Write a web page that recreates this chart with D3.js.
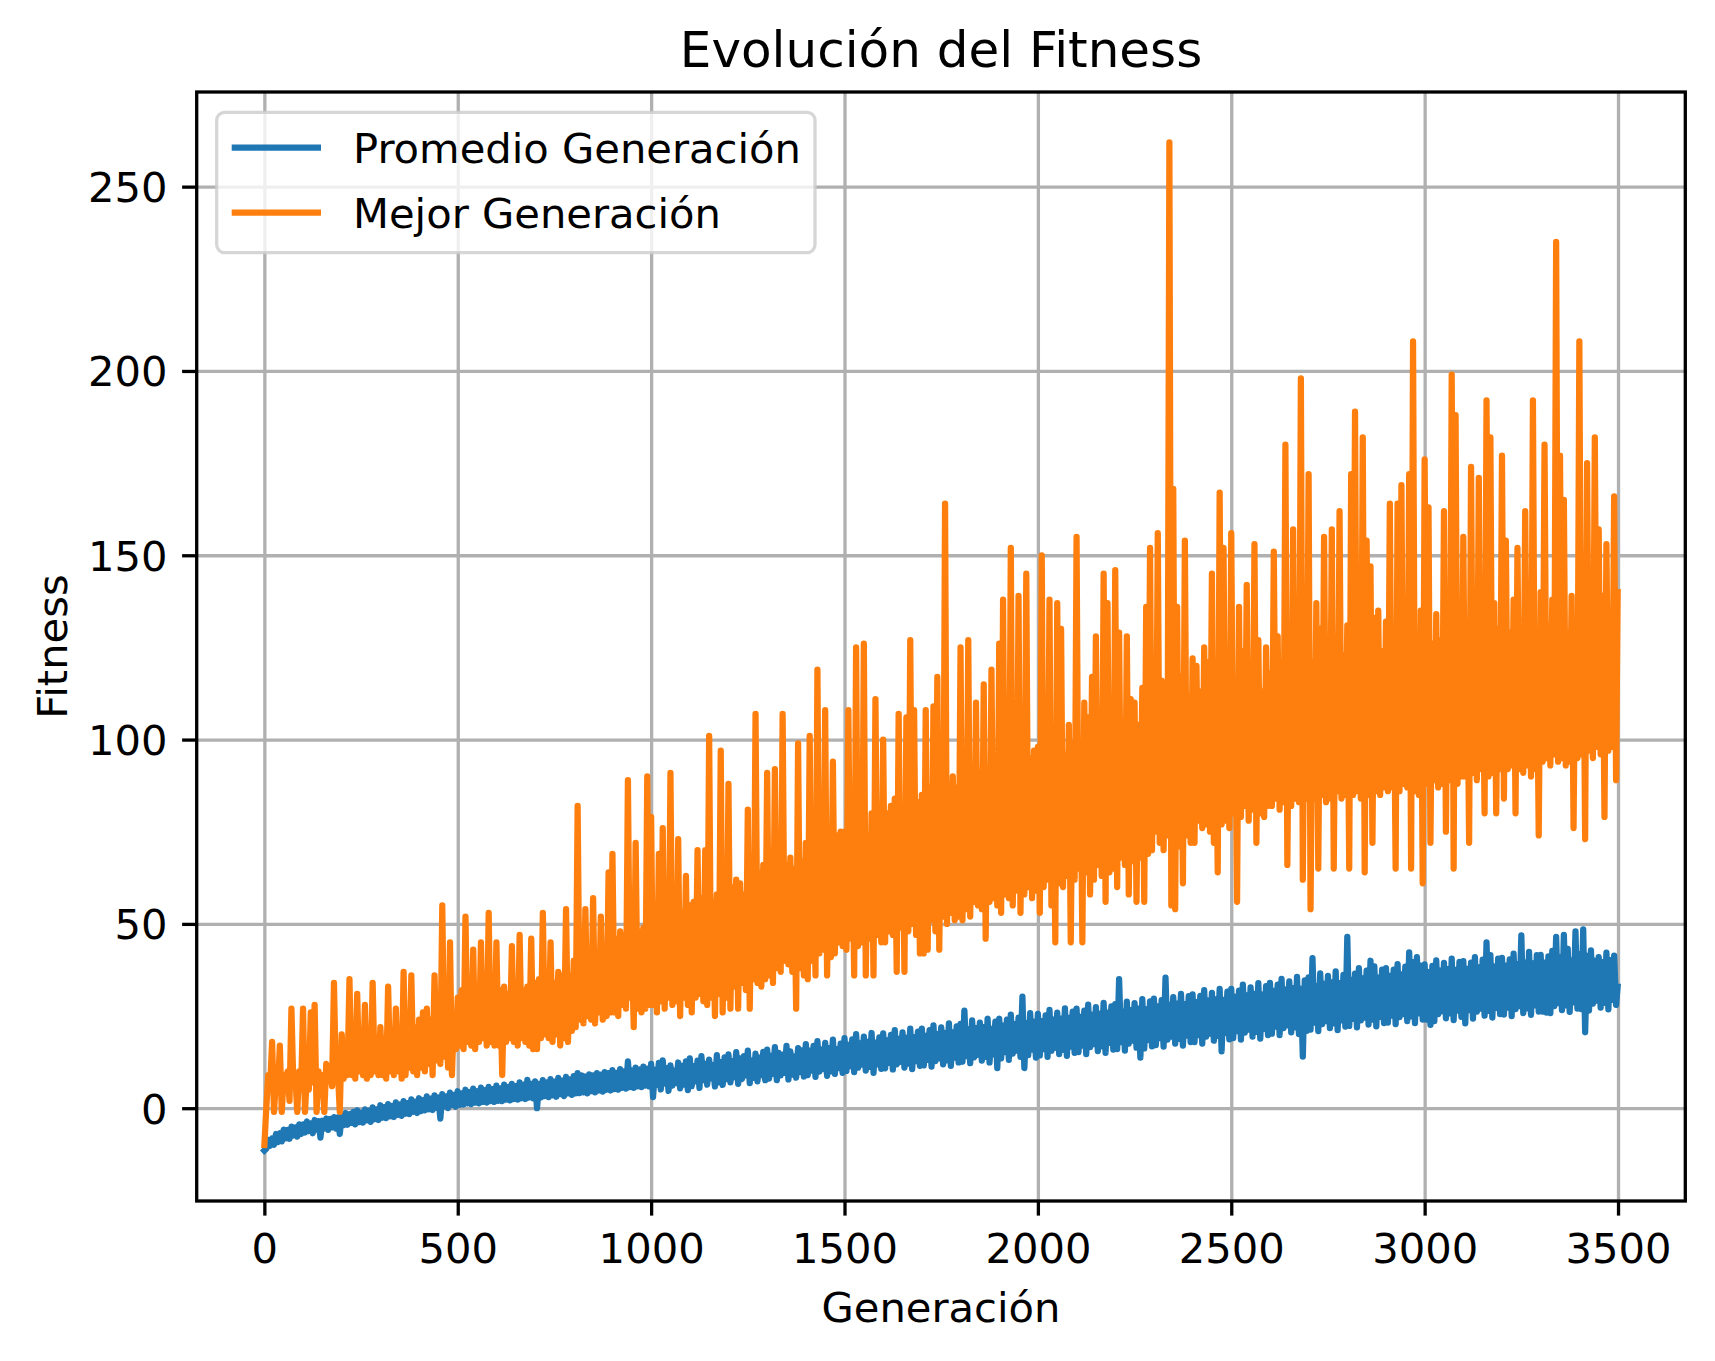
<!DOCTYPE html>
<html>
<head>
<meta charset="utf-8">
<script src="https://cdn.jsdelivr.net/npm/d3@7"></script>
<style>
  body { margin: 0; background: #fff; }
  svg { display: block; font-family: "DejaVu Sans", sans-serif; }
</style>
</head>
<body>
<svg width="1715" height="1361"></svg>
<script>
// samples: "alto" values at generations 0,10,20..3490,
// "bajo" values at 5,15,25..3495, and the last generation on its own
var step = 10;
var lastGen = 3499;

// average fitness (blue)
var promedioAlto = [
  -11.5, -8.6, -8.2, -7.0, -6.8, -5.8, -5.9, -5.0, -5.2, -4.4,
  -4.4, -3.6, -4.1, -3.2, -3.5, -3.4, -2.8, -2.9, -2.4, -2.5,
  -1.9, -1.3, -1.6, -1.0, -0.6, -1.2, -0.3, -0.7, 0.2, -0.3,
  0.8, 0.3, 1.1, 0.6, 1.6, 1.0, 1.9, 1.4, 2.4, 1.8,
  2.7, 2.2, 3.2, 2.6, 3.5, 2.9, 3.8, 3.2, 4.2, 3.6,
  4.6, 4.0, 5.0, 4.4, 5.3, 4.6, 5.6, 4.9, 5.8, 5.2,
  6.1, 5.4, 6.4, 5.8, 6.6, 6.0, 7.0, 6.4, 7.7, 6.6,
  7.3, 6.6, 7.6, 7.0, 7.9, 7.2, 8.2, 7.5, 8.5, 7.8,
  8.7, 9.5, 8.9, 8.6, 9.2, 8.9, 9.5, 9.1, 9.8, 9.5,
  10.3, 9.6, 10.6, 10.0, 12.7, 10.2, 11.0, 10.5, 11.3, 10.7,
  12.0, 10.4, 12.3, 13.0, 10.9, 11.6, 10.2, 12.4, 11.5, 12.7,
  13.5, 11.4, 12.9, 14.1, 12.0, 13.2, 11.7, 14.4, 12.5, 13.8,
  14.6, 12.8, 15.2, 13.5, 14.1, 15.6, 12.9, 14.8, 13.7, 15.3,
  15.9, 14.2, 16.6, 15.0, 14.5, 16.9, 15.4, 14.0, 16.3, 15.7,
  17.4, 15.6, 16.9, 18.2, 15.9, 17.7, 16.3, 18.6, 16.0, 17.5,
  19.0, 17.2, 18.7, 20.1, 17.6, 19.4, 18.0, 20.4, 17.8, 19.2,
  20.3, 18.4, 19.9, 21.2, 18.8, 20.6, 19.1, 21.6, 19.3, 20.8,
  21.6, 19.6, 21.2, 22.5, 20.1, 21.9, 20.4, 23.0, 20.6, 22.2,
  22.9, 26.5, 21.4, 23.8, 21.7, 23.2, 22.0, 24.3, 21.5, 23.5,
  24.3, 22.4, 24.0, 25.4, 22.8, 24.6, 30.3, 23.1, 25.8, 23.4,
  25.6, 23.6, 25.2, 26.7, 24.0, 25.9, 24.3, 27.1, 24.5, 26.2,
  27.0, 24.8, 26.5, 28.1, 25.3, 27.4, 25.6, 28.6, 25.9, 27.6,
  28.2, 35.0, 26.1, 28.9, 26.6, 28.5, 27.0, 29.6, 26.8, 29.0,
  29.7, 27.6, 29.3, 35.4, 28.0, 30.1, 28.4, 31.0, 28.2, 30.4,
  30.9, 28.8, 30.5, 32.0, 29.2, 31.3, 29.5, 32.4, 29.4, 31.6,
  32.4, 30.2, 31.9, 33.5, 30.6, 32.8, 31.0, 33.9, 30.8, 33.1,
  34.0, 31.8, 33.5, 35.1, 32.2, 34.4, 32.6, 35.6, 32.4, 34.7,
  35.5, 40.7, 33.1, 36.6, 33.7, 35.9, 34.1, 37.1, 33.9, 36.2,
  46.5, 34.8, 36.5, 38.0, 35.2, 37.3, 40.0, 38.5, 35.4, 37.6,
  38.0, 35.9, 37.6, 39.1, 36.3, 38.4, 42.3, 39.6, 41.0, 38.7,
  39.0, 36.9, 38.6, 40.1, 37.3, 39.4, 37.7, 40.6, 37.5, 39.7,
  39.9, 37.8, 39.5, 41.0, 38.2, 40.3, 45.0, 41.5, 38.4, 40.6,
  40.8, 38.7, 40.4, 41.9, 39.1, 46.9, 39.5, 42.4, 39.3, 41.5,
  41.6, 39.5, 41.2, 42.7, 46.5, 40.9, 47.0, 43.2, 40.1, 48.0,
  41.7, 48.5, 41.3, 42.8, 40.0, 41.0, 39.6, 42.2, 40.2, 41.4
];
var promedioBajo = [
  -11, -10.2, -9.9, -9.2, -9.0, -8.2, -8.3, -7.4, -7.7, -7.0,
  -6.6, -6.2, -6.8, -5.8, -8, -5.5, -5.9, -5.2, -5.5, -7,
  -4.6, -4.5, -4.0, -4.4, -3.8, -3.9, -3.3, -3.7, -3.0, -3.2,
  -2.6, -2.7, -2.2, -2.4, -1.8, -2.1, -1.5, -1.6, -1.0, -1.3,
  -0.8, -0.6, -0.3, -0.5, 0.1, -2.8, 0.5, 0.0, 0.9, 0.4,
  0.9, 1.0, 1.3, 1.1, 1.5, 1.3, 1.7, 1.5, 1.9, 1.7,
  2.0, 1.9, 2.3, 2.1, 2.5, 2.3, 2.7, 2.5, 2.9, 2.7,
  0, 2.9, 3.3, 3.0, 3.5, 3.1, 3.8, 3.3, 4.0, 3.6,
  4.0, 4.1, 4.3, 4.0, 4.6, 4.3, 4.8, 4.5, 5.0, 4.8,
  5.2, 5.0, 5.5, 5.3, 5.7, 5.5, 5.9, 5.7, 6.1, 5.9,
  3, 6.3, 5.1, 6.7, 4.7, 6.1, 6.8, 5.4, 6.4, 4.9,
  6.0, 7.3, 5.5, 7.6, 6.4, 8.1, 5.9, 7.0, 6.3, 7.9,
  7.0, 8.4, 6.6, 7.9, 8.9, 6.8, 8.2, 7.3, 9.0, 7.6,
  8.0, 9.3, 7.6, 8.9, 9.6, 7.8, 9.1, 8.3, 9.8, 8.6,
  9.0, 10.2, 8.5, 9.9, 10.6, 8.8, 10.0, 9.3, 10.9, 9.6,
  10.1, 11.4, 9.8, 11.0, 11.8, 10.2, 11.2, 9.6, 11.9, 10.7,
  10.8, 12.3, 10.5, 11.9, 12.6, 11.0, 12.1, 10.6, 12.8, 11.5,
  11.6, 13.1, 11.3, 12.8, 13.5, 11.9, 13.0, 11.5, 13.7, 12.4,
  12.6, 14.1, 12.2, 13.8, 14.5, 12.9, 13.9, 12.4, 14.6, 10.9,
  13.5, 15.2, 13.1, 14.8, 15.6, 13.9, 10.9, 14.4, 15.9, 13.7,
  14.3, 16.0, 13.9, 15.6, 16.4, 14.7, 15.8, 14.2, 16.7, 15.0,
  15.2, 17.0, 14.7, 16.6, 17.4, 15.5, 16.8, 15.0, 17.7, 15.9,
  16.0, 17.9, 15.6, 17.5, 18.3, 16.4, 13.7, 16.2, 18.5, 16.8,
  17.1, 19.0, 16.7, 18.6, 19.4, 17.5, 18.8, 17.0, 19.7, 17.9,
  17.9, 19.8, 17.5, 19.4, 20.2, 18.3, 19.6, 15.4, 20.4, 18.7,
  19.0, 20.9, 18.6, 20.5, 21.3, 19.4, 20.7, 18.9, 21.5, 19.8,
  20.2, 22.1, 19.8, 21.7, 22.5, 20.6, 21.9, 20.1, 14.0, 21.0,
  21.3, 23.2, 20.9, 22.8, 23.6, 21.7, 23.0, 21.2, 23.8, 22.1,
  22.3, 24.2, 21.9, 23.8, 24.6, 22.7, 24.0, 22.2, 24.8, 23.1,
  23.2, 25.1, 22.8, 24.7, 25.5, 23.6, 24.9, 23.1, 25.7, 24.0,
  24.0, 22.6, 23.6, 25.5, 26.3, 24.4, 25.7, 23.9, 26.5, 24.8,
  23.0, 26.6, 24.3, 26.2, 27.0, 25.1, 26.4, 24.6, 27.2, 25.5,
  25.4, 27.3, 25.0, 26.9, 27.7, 25.8, 27.1, 25.3, 27.9, 26.2,
  26.2, 25.9, 25.8, 27.7, 28.5, 26.6, 27.9, 26.1, 28.7, 27.0,
  26.9, 20.6, 26.5, 28.4, 29.2, 27.3, 28.6, 26.8, 29.4, 28.0
];
var promedioFinal = 33;

// best fitness (orange)
var mejorAlto = [
  -10, 9, 18, 8, 17, 9, 10, 27, 9, 10,
  27, 9, 26, 28, 10, 9, 12, 11, 34, 10,
  20, 14, 35, 18, 31, 16, 28, 17, 34, 18,
  22, 19, 33, 20, 27, 21, 37, 19, 36, 22,
  24, 26, 27, 24, 36, 26, 55, 27, 45, 25,
  30, 32, 52, 31, 43, 30, 45, 33, 53, 31,
  45, 32, 33, 31, 44, 33, 47, 32, 33, 46,
  34, 35, 53, 36, 45, 34, 37, 36, 54, 36,
  40, 82, 41, 54, 40, 57, 42, 52, 43, 64,
  69, 46, 48, 47, 89, 45, 72, 48, 49, 90,
  79, 52, 69, 76, 50, 91, 54, 73, 53, 63,
  55, 56, 70, 57, 70, 101, 56, 58, 97, 57,
  88, 60, 62, 61, 58, 81, 63, 107, 64, 66,
  91, 64, 92, 67, 107, 66, 68, 65, 99, 67,
  72, 101, 70, 119, 73, 108, 72, 94, 74, 75,
  75, 108, 76, 125, 77, 126, 74, 80, 111, 78,
  100, 80, 82, 84, 107, 81, 106, 127, 108, 83,
  85, 108, 87, 109, 117, 86, 164, 88, 90, 87,
  125, 90, 127, 88, 110, 91, 115, 92, 119, 90,
  126, 138, 93, 152, 94, 139, 96, 145, 95, 97,
  98, 150, 94, 138, 102, 137, 130, 96, 104, 99,
  155, 98, 110, 106, 117, 128, 101, 145, 137, 108,
  146, 129, 103, 128, 111, 110, 104, 114, 136, 152,
  110, 156, 116, 108, 262, 168, 136, 117, 154, 112,
  122, 120, 113, 125, 121, 145, 115, 167, 152, 124,
  156, 114, 136, 124, 142, 117, 153, 127, 113, 125,
  118, 151, 128, 121, 180, 126, 157, 119, 198, 129,
  172, 121, 137, 130, 155, 119, 157, 128, 162, 123,
  131, 172, 189, 122, 182, 154, 147, 133, 135, 124,
  132, 164, 125, 164, 169, 131, 172, 208, 124, 135,
  176, 163, 126, 134, 127, 162, 135, 199, 188, 127,
  155, 129, 174, 136, 171, 127, 192, 182, 137, 130,
  177, 154, 129, 138, 152, 130, 162, 138, 192, 128,
  140, 180, 131, 138, 235, 177, 165, 129, 139, 132,
  208, 140, 175, 131, 182, 157, 139, 153, 133, 166
];
var mejorBajo = [
  0, 6, -1, 5, -1, 7, 2, 6, -1, 5,
  -1, 5, 7, -1, 4, -1, 8, 6, 7, -1,
  8, 9, 9, 8, 10, 9, 8, 9, 10, 9,
  9, 8, 10, 9, 10, 8, 9, 11, 10, 9,
  11, 10, 12, 9, 13, 12, 14, 11, 9, 16,
  17, 16, 18, 17, 16, 18, 19, 17, 18, 17,
  17, 9, 18, 19, 18, 17, 19, 18, 17, 16,
  16, 19, 20, 19, 18, 20, 17, 19, 18, 21,
  22, 24, 23, 25, 24, 23, 26, 24, 25, 26,
  26, 25, 28, 27, 30, 22, 27, 26, 27, 28,
  28, 26, 29, 27, 30, 28, 29, 25, 30, 28,
  26, 30, 31, 29, 28, 30, 25, 31, 26, 30,
  27, 33, 27, 34, 32, 27, 35, 34, 33, 35,
  36, 34, 38, 37, 40, 39, 37, 27, 38, 36,
  35, 40, 36, 42, 43, 36, 41, 42, 45, 44,
  43, 46, 36, 44, 45, 36, 46, 36, 47, 45,
  45, 48, 47, 37, 49, 37, 48, 50, 47, 42,
  42, 43, 51, 48, 43, 52, 50, 53, 51, 52,
  51, 54, 52, 56, 55, 54, 46, 56, 57, 55,
  53, 58, 57, 55, 59, 53, 58, 60, 57, 59,
  53, 60, 62, 55, 45, 61, 60, 63, 45, 62,
  65, 45, 64, 58, 62, 66, 63, 56, 64, 65,
  60, 68, 66, 58, 67, 56, 68, 56, 69, 70,
  75, 72, 70, 74, 55, 54, 71, 61, 74, 72,
  72, 78, 76, 77, 75, 72, 64, 77, 78, 76,
  80, 56, 79, 82, 78, 81, 72, 80, 79, 82,
  82, 84, 81, 83, 66, 82, 84, 83, 62, 84,
  54, 84, 65, 85, 83, 84, 65, 86, 84, 85,
  65, 85, 86, 84, 64, 85, 72, 86, 85, 87,
  86, 87, 65, 86, 88, 87, 65, 86, 85, 61,
  88, 72, 89, 87, 88, 75, 89, 65, 88, 90,
  90, 72, 91, 89, 92, 80, 90, 91, 80, 92,
  84, 92, 93, 80, 92, 91, 93, 90, 92, 74,
  94, 95, 93, 96, 94, 95, 93, 94, 76, 95,
  96, 73, 97, 95, 98, 96, 79, 97, 98, 89
];
var mejorFinal = 140;

var seriesNames = ['Promedio Generación', 'Mejor Generación'];
var seriesColors = ['#1f77b4', '#ff7f0e'];
var xTicks = [0, 500, 1000, 1500, 2000, 2500, 3000, 3500];
var yTicks = [0, 50, 100, 150, 200, 250];

// interleave the two sample sets into one series per line
function buildSeries(alto, bajo, last) {
  var pts = [];
  alto.forEach((v, i) => {
    pts.push({gen: i * step, value: v});
    pts.push({gen: i * step + step / 2, value: bajo[i]});
  });
  pts.push({gen: lastGen, value: last});
  return pts;
}
var promedio = buildSeries(promedioAlto, promedioBajo, promedioFinal);
var mejor = buildSeries(mejorAlto, mejorBajo, mejorFinal);

var plot = {left: 196.7, right: 1685.3, top: 92, bottom: 1201};
var fontPx = 41.67;
var lw = 3.3;

var svg = d3.select('svg');

// matplotlib-like 5% margins
var xExtent = d3.extent(promedio, d => d.gen);
var xPad = (xExtent[1] - xExtent[0]) * 0.05;
var xScale = d3.scaleLinear()
  .domain([xExtent[0] - xPad, xExtent[1] + xPad])
  .range([plot.left, plot.right]);

var yExtent = d3.extent(promedio.concat(mejor), d => d.value);
var yPad = (yExtent[1] - yExtent[0]) * 0.05;
var yScale = d3.scaleLinear()
  .domain([yExtent[0] - yPad, yExtent[1] + yPad])
  .range([plot.bottom, plot.top]);

// grid
svg.append('g')
  .attr('transform', 'translate(0,' + plot.bottom + ')')
  .call(d3.axisBottom(xScale).tickValues(xTicks).tickSize(-(plot.bottom - plot.top)).tickFormat(''))
  .call(g => g.select('.domain').remove())
  .call(g => g.selectAll('line').attr('stroke', '#b0b0b0').attr('stroke-width', lw));
svg.append('g')
  .attr('transform', 'translate(' + plot.left + ',0)')
  .call(d3.axisLeft(yScale).tickValues(yTicks).tickSize(-(plot.right - plot.left)).tickFormat(''))
  .call(g => g.select('.domain').remove())
  .call(g => g.selectAll('line').attr('stroke', '#b0b0b0').attr('stroke-width', lw));

// lines
svg.append('clipPath').attr('id', 'clip')
  .append('rect')
  .attr('x', plot.left).attr('y', plot.top)
  .attr('width', plot.right - plot.left).attr('height', plot.bottom - plot.top);

var line = d3.line()
  .x(d => xScale(d.gen))
  .y(d => yScale(d.value));

[promedio, mejor].forEach((s, k) => {
  svg.append('path')
    .datum(s)
    .attr('clip-path', 'url(#clip)')
    .attr('d', line)
    .attr('fill', 'none')
    .attr('stroke', seriesColors[k])
    .attr('stroke-width', 6.25)
    .attr('stroke-linejoin', 'round')
    .attr('stroke-linecap', 'square');
});

// axes
var xAxis = d3.axisBottom(xScale).tickValues(xTicks).tickFormat(d3.format('d'))
  .tickSize(14.6).tickPadding(14.6).tickSizeOuter(0);
var yAxis = d3.axisLeft(yScale).tickValues(yTicks).tickFormat(d3.format('d'))
  .tickSize(14.6).tickPadding(14.6).tickSizeOuter(0);

svg.append('g')
  .attr('transform', 'translate(0,' + plot.bottom + ')')
  .call(xAxis)
  .call(g => g.select('.domain').remove())
  .call(g => g.selectAll('line').attr('stroke', '#000').attr('stroke-width', lw))
  .call(g => g.selectAll('text').attr('dy', '0.78em'));

svg.append('g')
  .attr('transform', 'translate(' + plot.left + ',0)')
  .call(yAxis)
  .call(g => g.select('.domain').remove())
  .call(g => g.selectAll('line').attr('stroke', '#000').attr('stroke-width', lw))
  .call(g => g.selectAll('text').attr('dy', '0.36em'));

svg.selectAll('.tick text')
  .attr('font-family', '"DejaVu Sans", sans-serif')
  .attr('font-size', fontPx)
  .attr('fill', '#000');

// spines
svg.append('rect')
  .attr('x', plot.left).attr('y', plot.top)
  .attr('width', plot.right - plot.left).attr('height', plot.bottom - plot.top)
  .attr('fill', 'none').attr('stroke', '#000').attr('stroke-width', lw)
  .attr('stroke-linejoin', 'miter');

// titles
var cx = (plot.left + plot.right) / 2;
svg.append('text')
  .attr('x', cx).attr('y', 67)
  .attr('text-anchor', 'middle')
  .attr('font-size', 50)
  .text('Evolución del Fitness');

svg.append('text')
  .attr('x', cx).attr('y', 1322)
  .attr('text-anchor', 'middle')
  .attr('font-size', fontPx)
  .text('Generación');

svg.append('text')
  .attr('transform', 'translate(67,' + ((plot.top + plot.bottom) / 2) + ') rotate(-90)')
  .attr('text-anchor', 'middle')
  .attr('font-size', fontPx)
  .text('Fitness');

// legend
var legend = svg.append('g');
legend.append('rect')
  .attr('x', 216.7).attr('y', 112.3)
  .attr('width', 815 - 216.7).attr('height', 252.7 - 112.3)
  .attr('rx', 8).attr('ry', 8)
  .attr('fill', '#fff').attr('fill-opacity', 0.8)
  .attr('stroke', '#cccccc').attr('stroke-opacity', 0.8).attr('stroke-width', lw);

seriesNames.forEach((name, k) => {
  var ly = 147.7 + k * 65;
  legend.append('line')
    .attr('x1', 231.7).attr('x2', 321)
    .attr('y1', ly).attr('y2', ly)
    .attr('stroke', seriesColors[k]).attr('stroke-width', 6.25);
  legend.append('text')
    .attr('x', 353).attr('y', ly + 15)
    .attr('font-size', fontPx)
    .text(name);
});
</script>
</body>
</html>
